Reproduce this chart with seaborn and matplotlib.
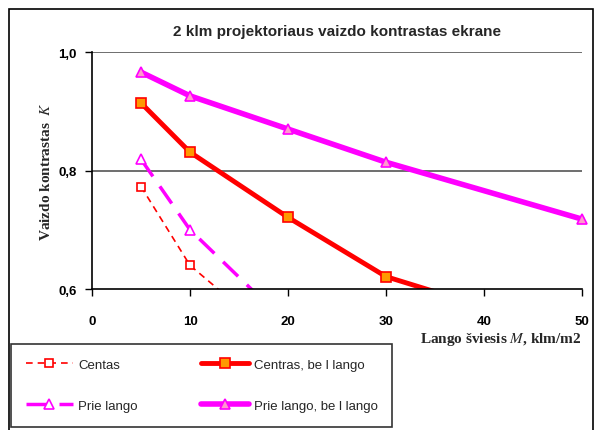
import pandas as pd
import seaborn as sns
from matplotlib import pyplot as plt
from matplotlib.patches import Rectangle

# data
x_vals = [5, 10, 20, 30, 40, 50]
centas = [0.773, 0.640, 0.50, None, None, None]
centras_be = [0.914, 0.831, 0.721, 0.621, 0.57, 0.52]
prie_lango = [0.819, 0.700, 0.54, None, None, None]
prie_lango_be = [0.966, 0.926, 0.870, 0.814, None, 0.718]

series_names = ["Centas", "Centras, be l lango", "Prie lango", "Prie lango, be l lango"]
x_ticks = [0, 10, 20, 30, 40, 50]
y_ticks = [0.6, 0.8, 1.0]
y_tick_labels = ["0,6", "0,8", "1,0"]

sns.set_style("white")
plt.rcParams['font.family'] = ['Liberation Sans', 'DejaVu Sans']
plt.rcParams['mathtext.fontset'] = 'stix'

fig = plt.figure(figsize=(5.99, 4.31), dpi=100)
ax = fig.add_axes([0.1536, 0.327, 0.818, 0.55])

styles = {
    "Centas": dict(color="#FF0000", lw=1.2, dashes=(4, 3), marker="s", ms=6,
                   mfc="white", mec="#FF0000", mew=1.2),
    "Centras, be l lango": dict(color="#FF0000", lw=3.5, marker="s", ms=6.5,
                                mfc="#FF9900", mec="#FF0000", mew=1.2),
    "Prie lango": dict(color="#FF00FF", lw=2.5, dashes=(6, 3.5), marker="^", ms=7,
                       mfc="white", mec="#FF00FF", mew=1.2),
    "Prie lango, be l lango": dict(color="#FF00FF", lw=4, marker="^", ms=7.5,
                                   mfc="#FF99CC", mec="#FF00FF", mew=1.2),
}

handles = {}
for name, vals in zip(series_names, [centas, centras_be, prie_lango, prie_lango_be]):
    df = pd.DataFrame({"x": x_vals, "y": vals}).dropna()
    st = styles[name]
    kw = dict(color=st["color"], linewidth=st["lw"], marker=st["marker"],
              markersize=st["ms"], markerfacecolor=st["mfc"],
              markeredgecolor=st["mec"], markeredgewidth=st["mew"])
    if "dashes" in st:
        kw["dashes"] = st["dashes"]
    sns.lineplot(data=df, x="x", y="y", ax=ax, legend=False, **kw)
    line = ax.lines[-1]
    line.set_label(name)
    handles[name] = line

# top series stays inside the axes, let its end marker show fully
handles["Prie lango, be l lango"].set_clip_on(False)

ax.set_xlim(0, 50)
ax.set_ylim(0.6, 1.0)
ax.set_xticks(x_ticks)
ax.set_yticks(y_ticks)
ax.set_yticklabels(y_tick_labels)
for t in ax.get_xticklabels() + ax.get_yticklabels():
    t.set_fontweight("bold")
    t.set_fontsize(9.5)
ax.tick_params(axis="x", direction="out", length=5, width=1, pad=14, colors="black")
ax.tick_params(axis="y", direction="out", length=5, width=1, pad=6, colors="black")
ax.tick_params(bottom=True, left=True)

for y in [0.8, 1.0]:
    ax.axhline(y, color="#555555", lw=1.2, zorder=0)

for side in ["top", "right"]:
    ax.spines[side].set_visible(False)
for side in ["left", "bottom"]:
    ax.spines[side].set_color("black")
    ax.spines[side].set_linewidth(1.2)

ax.set_title("2 klm projektoriaus vaizdo kontrastas ekrane", fontsize=11,
             fontweight="bold", pad=12)
ax.set_xlabel("Lango šviesis $\\mathbf{\\mathit{M}}$, klm/m2", family="Liberation Serif",
              fontweight="bold", fontsize=11, loc="right", labelpad=2)
ax.set_ylabel("Vaizdo kontrastas  $\\mathbf{\\mathit{K}}$", family="Liberation Serif",
              fontweight="bold", fontsize=11, labelpad=4)

# outer chart frame
fig.patches.append(Rectangle((9 / 599, -0.01), 584 / 599, 1 - 10 / 431 + 0.01,
                             transform=fig.transFigure, fill=False,
                             edgecolor="black", lw=1.2))

# legend is filled row by row in the reference
leg_order = ["Centas", "Prie lango", "Centras, be l lango", "Prie lango, be l lango"]
leg = fig.legend(handles=[handles[n] for n in leg_order],
                 loc="upper left", bbox_to_anchor=(11 / 599, 1 - 345 / 431), ncol=2,
                 frameon=True, fancybox=False, edgecolor="black", fontsize=9.5,
                 handlelength=3.6, labelspacing=2.2, columnspacing=4.8,
                 borderaxespad=0, borderpad=1.1, handletextpad=0.4)
leg.get_frame().set_linewidth(1.2)

fig.savefig("out.png", dpi=100)
